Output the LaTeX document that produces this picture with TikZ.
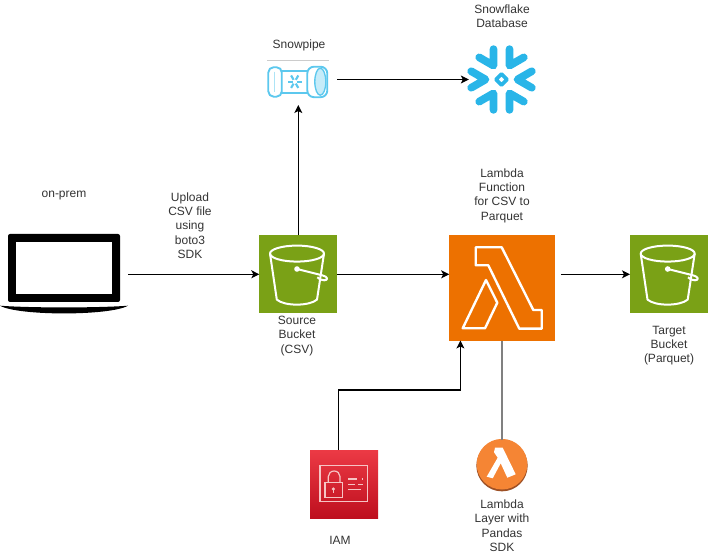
\documentclass[tikz,border=0pt]{standalone}
\usepackage{fontspec}
\setmainfont{Liberation Sans}
\usetikzlibrary{positioning, arrows.meta}
\definecolor{bucketgreen}{HTML}{7AA116}
\definecolor{lambdaorange}{HTML}{ED7100}
\definecolor{layerorange}{HTML}{F58534}
\definecolor{layerdark}{HTML}{9D5025}
\definecolor{snowblue}{HTML}{29B5E8}
\definecolor{pipeblue}{HTML}{5CC8EE}
\definecolor{iamtop}{HTML}{EC3A45}
\definecolor{iambottom}{HTML}{BE0F1E}
\definecolor{iamline}{HTML}{F6C4C4}
\tikzset{
  lbl/.style={align=center, inner sep=0pt, text=black!80, font=\fontsize{9}{10.8}\selectfont},
  bucketbox/.style={fill=bucketgreen, minimum size=58.5pt, inner sep=0pt, outer sep=0pt},
  flow/.style={-{Stealth[length=6pt, width=6pt, inset=1.5pt]}, line width=0.8pt},
  iconline/.style={draw=white, line width=1.5pt, line join=round},
  pipeline/.style={draw=pipeblue, line width=1.4pt, fill=white}
}
\begin{document}
\begin{tikzpicture}[x=0.75pt, y=-0.75pt]
    \useasboundingbox (0,0) rectangle (709,555);

    % laptop
    \node[fill=black, rounded corners=1.5pt, minimum width=84pt, minimum height=51pt, inner sep=0pt, outer sep=0pt] (laptop) at (64,268) {};
    \node[fill=white, minimum width=72pt, minimum height=39pt, inner sep=0pt] (screen) at (laptop.center) {};
    \fill[black] (0,305.7) .. controls (30,308) and (98,308) .. (128,305.7) .. controls (110,316) and (18,316) .. (0,305.7) -- cycle;
    \coordinate (laptopend) at (128,274.3);

    % the boxes
    \node[bucketbox] (source) at (298.3,274.3) {};
    \node[bucketbox] (target) at (669,274.3) {};
    \node[fill=lambdaorange, minimum size=79.25pt, inner sep=0pt, outer sep=0pt] (lambda) at (502,287.7) {};
    \node[shade, shading angle=45, bottom color=iambottom, top color=iamtop, minimum size=51pt, inner sep=0pt, outer sep=0pt] (iam) at (344,484) {};
    \node[circle, fill=layerdark, minimum size=38.5pt, inner sep=0pt, outer sep=0pt] (layer) at (502,465.7) {};
    \node[minimum width=46.5pt, minimum height=25pt, inner sep=0pt, outer sep=0pt] (snowpipe) at (298.3,81.7) {};
    \node[minimum size=51pt, inner sep=0pt, outer sep=0pt] (snowflake) at (501.5,79.5) {};

    % buckets
    \foreach \b in {source, target}
    {
    \begin{scope}[shift={(\b.center)}]
        \draw[iconline] (-1.3,-20.7) ellipse (27 and 8);
        \draw[iconline] (-28.3,-20.7) -- (-21.5,25.3) .. controls (-14,32) and (11,32) .. (18.7,25.3) -- (25.7,-20.7);
        \fill[white] (-1.3,-5.3) circle (2.8);
        \draw[iconline] (-1.3,-5.3) -- (24,1) .. controls (30,2.5) and (30,6) .. (26,6) .. controls (23,6) and (21,5) .. (19,3);
    \end{scope}
    }

    % lambda
    \draw[iconline, line width=1.8pt] (475.7,247.3) -- (501.7,247.3) -- (533.3,310) -- (541.7,310) -- (541.7,328.7) -- (519.3,328.7) -- (488.3,265.3) -- (475.7,265.3) -- cycle;
    \draw[iconline, line width=1.8pt] (486,280) -- (497.3,302.7) -- (485,328.3) -- (462.7,328.3) -- cycle;

    % layer
    \fill[layerorange] (502,464.2) circle (25.3);
    \fill[white] (495,447.7) -- (502.7,447.7) -- (515.7,474.3) -- (507.3,477.7) -- (500.7,463.3) -- (492.7,478.3) -- (486.7,476.7) -- (497.7,457.7) -- (494,452.3) -- cycle;

    % iam
    \draw[iamline, line width=0.9pt] (320,465.7) rectangle (367.7,501.7);
    \draw[iamline, line width=0.9pt] (325,482.3) rectangle (342.3,497.7);
    \draw[iamline, line width=0.9pt] (328.3,482.3) -- (328.3,476.5) arc (180:360:5.85 and 5.5) -- (340,482.3);
    \fill[iamline] (333.3,489) circle (1.7);
    \draw[iamline, line width=0.8pt] (333.3,489) -- (333.3,493);
    \foreach \xa/\xb/\ya in {348.3/356.7/479, 361.5/362.8/479, 348.3/355/484.3, 358.3/363.3/484.3, 348.3/361/489.3}
    {
    \draw[iamline, line width=0.8pt] (\xa,\ya) -- (\xb,\ya);
    }

    % snowflake
    \begin{scope}[shift={(snowflake.center)}]
        \foreach \a in {0,60,...,300}
        {
        \draw[snowblue, line width=5.8pt, line cap=round, line join=round] (\a:16) ++({\a+30}:16.5) -- (\a:16) -- ++({\a-30}:16.5);
        }
        \draw[snowblue, line width=2.8pt, line join=round] (5.5,0) -- (0,5.5) -- (-5.5,0) -- (0,-5.5) -- cycle;
    \end{scope}

    % snowpipe
    \draw[black!20, line width=0.7pt] (267,60.3) -- (329,60.3);
    \begin{scope}[shift={(snowpipe.center)}]
        \draw[pipeline] (-18,-11) rectangle (10.5,11.5);
        \draw[pipeline, rounded corners=4pt] (-30,-14.5) rectangle (-16.5,15);
        \draw[draw=pipeblue!50, line width=1pt] (-24,-10) -- (-24,10.5);
        \draw[pipeline, rounded corners=5pt] (9,-15) rectangle (29,15.5);
        \draw[draw=pipeblue, line width=1pt, fill=pipeblue!35] (22,0) ellipse (5.5 and 13.5);
        \foreach \a in {0,60,...,300}
        {
        \draw[pipeblue, line width=1.6pt] (-3.6,0) ++(\a:2.2) -- ++(\a:5);
        }
    \end{scope}

    % arrows
    \draw[flow] (laptopend) -- (source.west);
    \draw[flow] (source.east) -- (source.east -| lambda.west);
    \draw[flow] ([xshift=4.5pt]lambda.east |- target.west) -- (target.west);
    \draw[flow] (source.north) -- ([yshift=-5pt]snowpipe.south);
    \draw[flow] ([xshift=6pt]snowpipe.east |- snowflake.west) -- ([xshift=1pt]snowflake.west);
    \draw[flow] ([xshift=-4.2pt]iam.north) |- (460.4,390) -- (460.4,340.5);
    \draw[black!50, line width=1.5pt] (layer.north) -- (layer.north |- lambda.south);

    % labels
    \node[lbl] (onpremlabel) at (64,195.7) {on-prem};
    \node[lbl] (uploadlabel) at (190,225.7) {Upload\\CSV file\\using\\boto3\\SDK};
    \node[lbl] (snowpipelabel) at (299,45.7) {Snowpipe};
    \node[lbl] (snowflakelabel) at (502,16) {Snowflake\\Database};
    \node[lbl] (lambdalabel) at (502,195.7) {Lambda\\Function\\for CSV to\\Parquet};
    \node[lbl] (sourcelabel) at (297,336) {Source\\Bucket\\(CSV)};
    \node[lbl] (targetlabel) at (669,345.7) {Target\\Bucket\\(Parquet)};
    \node[lbl] (iamlabel) at (340,540) {IAM};
    \node[lbl] (layerlabel) at (502,525.7) {Lambda\\Layer with\\Pandas\\SDK};
\end{tikzpicture}
\end{document}
